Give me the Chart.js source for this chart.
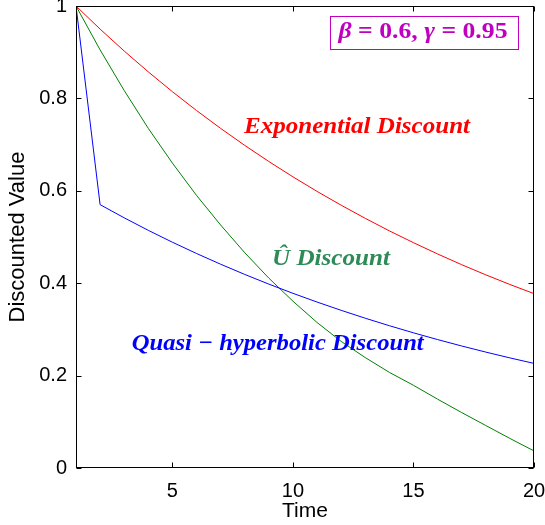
<!DOCTYPE html>
<html>
<head>
<meta charset="utf-8">
<script src="https://cdn.jsdelivr.net/npm/chart.js@4.4.1/dist/chart.umd.min.js"></script>
<style>
  html, body { margin: 0; padding: 0; background: #fff; }
  #wrap { width: 545px; height: 525px; }
</style>
</head>
<body>
<div id="wrap"><canvas id="c" width="545" height="525"></canvas></div>
<script>
// ---- data ----
const times = [1, 2, 3, 4, 5, 6, 7, 8, 9, 10, 11, 12, 13, 14, 15, 16, 17, 18, 19, 20];
const exponentialDiscount = [1, 0.95, 0.9025, 0.8574, 0.8145, 0.7738, 0.7351, 0.6983, 0.6634, 0.6302,
                             0.5987, 0.5688, 0.5404, 0.5133, 0.4877, 0.4633, 0.4401, 0.4181, 0.3972, 0.3774];
const quasiHyperbolicDiscount = [1, 0.57, 0.5415, 0.5144, 0.4887, 0.4643, 0.4411, 0.4190, 0.3980, 0.3781,
                                 0.3592, 0.3413, 0.3242, 0.3080, 0.2926, 0.2780, 0.2641, 0.2509, 0.2383, 0.2264];
const uHatDiscount = [1, 0.905, 0.817, 0.735, 0.660, 0.590, 0.526, 0.466, 0.411, 0.361,
                      0.315, 0.274, 0.239, 0.207, 0.179, 0.149, 0.120, 0.092, 0.064, 0.037];
const xTickValues = [5, 10, 15, 20];
const yTickValues = [0, 0.2, 0.4, 0.6, 0.8, 1];
const seriesNames = ['Exponential Discount', 'Quasi \u2212 hyperbolic Discount', '\u00DB Discount'];
const paramText = ['\u03B2', ' = 0.6, ', '\u03B3', ' = 0.95'];

// ---- annotation anchors (data coordinates) ----
const annotations = [
  { text: seriesNames[0], t: 7.97, v: 0.725, width: 226, color: '#FF0000' },
  { text: seriesNames[2], t: 9.13, v: 0.439, width: 118, color: '#2E8B57' },
  { text: seriesNames[1], t: 3.31, v: 0.255, width: 292, color: '#0000FF' }
];
const paramBox = { t0: 11.54, t1: 19.33, v0: 0.978, v1: 0.9076, color: '#BF00BF' };

const toPoints = arr => arr.map((v, i) => ({ x: times[i], y: v }));

Chart.defaults.color = '#000';
Chart.defaults.font.family = '"Liberation Sans", Arial, sans-serif';

const annotFont = 'italic bold 23px "Liberation Serif", serif';

const framePlugin = {
  id: 'frame',
  afterDatasetsDraw(chart) {
    const ctx = chart.ctx;
    const a = chart.chartArea;
    const xs = chart.scales.x, ys = chart.scales.y;
    ctx.save();
    ctx.textBaseline = 'alphabetic';
    ctx.textAlign = 'left';
    annotations.forEach(an => {
      const px = xs.getPixelForValue(an.t), py = ys.getPixelForValue(an.v);
      ctx.font = annotFont;
      const w = ctx.measureText(an.text).width;
      ctx.save();
      ctx.translate(px, py);
      ctx.scale(an.width / w, 1);
      ctx.fillStyle = an.color;
      ctx.fillText(an.text, 0, 0);
      ctx.restore();
    });
    const bx0 = Math.round(xs.getPixelForValue(paramBox.t0)) + 0.5;
    const bx1 = Math.round(xs.getPixelForValue(paramBox.t1)) + 0.5;
    const by0 = Math.round(ys.getPixelForValue(paramBox.v0)) + 0.5;
    const by1 = Math.round(ys.getPixelForValue(paramBox.v1)) + 0.5;
    ctx.fillStyle = '#fff';
    ctx.fillRect(bx0, by0, bx1 - bx0, by1 - by0);
    ctx.strokeStyle = paramBox.color;
    ctx.lineWidth = 1;
    ctx.strokeRect(bx0, by0, bx1 - bx0, by1 - by0);
    const fonts = ['italic bold 23px "Liberation Serif", serif', 'bold 23px "Liberation Serif", serif',
                   'italic bold 23px "Liberation Serif", serif', 'bold 23px "Liberation Serif", serif'];
    let total = 0;
    paramText.forEach((s, i) => { ctx.font = fonts[i]; total += ctx.measureText(s).width; });
    const targetW = 169;
    ctx.save();
    ctx.translate(bx0 + 8, by0 + 21);
    ctx.scale(targetW / total, 1);
    ctx.fillStyle = paramBox.color;
    let cx = 0;
    paramText.forEach((s, i) => { ctx.font = fonts[i]; ctx.fillText(s, cx, 0); cx += ctx.measureText(s).width; });
    ctx.restore();

    ctx.strokeStyle = '#000';
    ctx.lineWidth = 1;
    const L = Math.round(a.left) + 0.5, R = Math.round(a.right) - 0.5;
    const T = Math.round(a.top) + 0.5, B = Math.round(a.bottom) - 0.5;
    ctx.strokeRect(L, T, R - L, B - T);
    const tl = 5;
    ctx.beginPath();
    xTickValues.forEach(v => {
      const x = Math.round(xs.getPixelForValue(v)) + 0.5;
      ctx.moveTo(x, B); ctx.lineTo(x, B - tl);
      ctx.moveTo(x, T); ctx.lineTo(x, T + tl);
    });
    yTickValues.forEach(v => {
      const y = Math.round(ys.getPixelForValue(v)) + 0.5;
      ctx.moveTo(L, y); ctx.lineTo(L + tl, y);
      ctx.moveTo(R, y); ctx.lineTo(R - tl, y);
    });
    ctx.stroke();
    ctx.restore();
  }
};

new Chart(document.getElementById('c'), {
  type: 'line',
  data: {
    datasets: [
      { label: seriesNames[0], data: toPoints(exponentialDiscount), borderColor: '#FF0000' },
      { label: seriesNames[1], data: toPoints(quasiHyperbolicDiscount), borderColor: '#0000FF' },
      { label: seriesNames[2], data: toPoints(uHatDiscount), borderColor: '#008000' }
    ]
  },
  options: {
    responsive: false,
    animation: false,
    layout: { padding: { left: 0, top: 6, right: 11, bottom: 0 } },
    elements: {
      line: { borderWidth: 1, tension: 0, fill: false },
      point: { radius: 0, hoverRadius: 0 }
    },
    plugins: { legend: { display: false }, tooltip: { enabled: false } },
    scales: {
      x: {
        type: 'linear', min: 1, max: 20,
        grid: { display: false, drawTicks: false },
        border: { display: false },
        afterBuildTicks: s => { s.ticks = xTickValues.map(v => ({ value: v })); },
        afterFit: s => { s.height = 57; s.paddingLeft = 0; s.paddingRight = 0; },
        ticks: { autoSkip: false, maxRotation: 0, padding: 11, font: { size: 20 }, color: '#000',
                 callback: v => String(v) },
        title: { display: true, text: 'Time', font: { size: 21 }, color: '#000', padding: { top: 0, bottom: 1 } }
      },
      y: {
        type: 'linear', min: 0, max: 1,
        grid: { display: false, drawTicks: false },
        border: { display: false },
        afterBuildTicks: s => { s.ticks = yTickValues.map(v => ({ value: v })); },
        afterFit: s => { s.width = 76; s.paddingTop = 0; s.paddingBottom = 0; },
        ticks: { autoSkip: false, padding: 9, font: { size: 20 }, color: '#000',
                 callback: v => String(+v.toFixed(1)) },
        title: { display: true, text: 'Discounted Value', font: { size: 22 }, color: '#000', padding: { top: 5, bottom: 0 } }
      }
    }
  },
  plugins: [framePlugin]
});
</script>
</body>
</html>
